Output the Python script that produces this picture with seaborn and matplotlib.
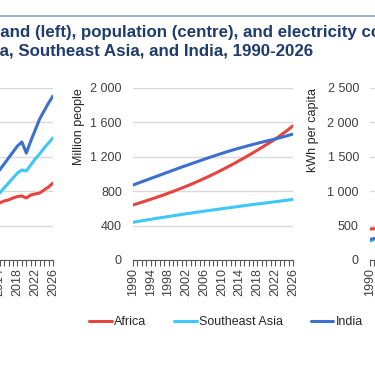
import pandas as pd
import seaborn as sns
import matplotlib.pyplot as plt
from matplotlib.lines import Line2D
from matplotlib.ticker import FixedLocator, FuncFormatter

# ---------------- data ----------------
regions = ["Africa", "Southeast Asia", "India"]
colours = {"Africa": "#E8433E", "Southeast Asia": "#3DC8F7", "India": "#3C70CF"}

# electricity demand, TWh (left panel - only the latest years are in view)
demand_years = list(range(2013, 2027))
demand_africa = [650, 663, 686, 698, 721, 738, 744, 721, 756, 768, 779, 814, 849, 896]
demand_sea = [730, 779, 837, 895, 953, 1012, 1047, 1035, 1105, 1175, 1233, 1302, 1361, 1419]
demand_india = [985, 1047, 1116, 1186, 1256, 1326, 1372, 1244, 1384, 1512, 1640, 1733, 1826, 1907]

# population, million people (centre panel)
pop_years = list(range(1990, 2027))
pop_africa = [640, 656, 672, 689, 706, 723, 741, 759, 778, 797,
              817, 837, 858, 879, 901, 924, 947, 971, 996, 1021,
              1047, 1074, 1101, 1129, 1158, 1187, 1217, 1247, 1278, 1309,
              1341, 1373, 1406, 1442, 1480, 1519, 1560]
pop_sea = [438, 447, 456, 465, 473, 482, 490, 498, 506, 514,
           522, 530, 538, 545, 553, 560, 568, 575, 582, 589,
           596, 603, 610, 617, 624, 631, 638, 645, 651, 658,
           664, 671, 677, 684, 691, 698, 705]
pop_india = [872, 891, 910, 929, 948, 967, 986, 1005, 1024, 1043,
             1062, 1081, 1099, 1117, 1135, 1153, 1171, 1189, 1206, 1223,
             1240, 1256, 1272, 1287, 1302, 1316, 1330, 1344, 1357, 1370,
             1383, 1395, 1407, 1421, 1435, 1450, 1464]

# electricity consumption per capita, kWh (right panel - only 1990 in view)
pc_years = [1990, 1991, 1992]
pc_africa = [450, 455, 452]
pc_sea = [275, 300, 325]
pc_india = [300, 312, 322]

title_1 = "Electricity demand (left), population (centre), and electricity consumption per capita (right) in"
title_2 = "Africa, Southeast Asia, and India, 1990-2026"


def to_long(years, africa, sea, india):
    frames = []
    for name, vals in zip(regions, [africa, sea, india]):
        frames.append(pd.DataFrame({"year": years, "value": vals, "region": name}))
    return pd.concat(frames, ignore_index=True)


demand = to_long(demand_years, demand_africa, demand_sea, demand_india)
population = to_long(pop_years, pop_africa, pop_sea, pop_india)
per_capita = to_long(pc_years, pc_africa, pc_sea, pc_india)

# ---------------- figure ----------------
sns.set_theme(style="white")
plt.rcParams["font.family"] = ["Liberation Sans", "DejaVu Sans"]

W, H = 375, 366
fig = plt.figure(figsize=(W / 100, H / 100), dpi=100)


def px_axes(left, top, right, bottom):
    return fig.add_axes([left / W, 1 - bottom / H, (right - left) / W, (bottom - top) / H])


ax_l = px_axes(-107, 88, 53, 260)
ax_c = px_axes(133, 88, 293, 260)
ax_r = px_axes(370, 88, 530, 260)


def thousands(v, pos):
    return f"{v:,.0f}".replace(",", " ")


def style(ax, ymax, step, ylabel, label_x):
    ax.set_xlim(1990, 2026)
    ax.set_ylim(0, ymax)
    ax.yaxis.set_major_locator(FixedLocator(list(range(0, ymax + 1, step))))
    ax.yaxis.set_major_formatter(FuncFormatter(thousands))
    ax.xaxis.set_major_locator(FixedLocator(list(range(1990, 2027, 4))))
    ax.xaxis.set_minor_locator(FixedLocator(list(range(1990, 2027))))
    ax.tick_params(axis="x", which="both", bottom=True, length=4, width=0.8,
                   color="#595959", labelsize=9, labelcolor="#404040", pad=2)
    ax.tick_params(axis="x", which="major", labelrotation=90)
    ax.tick_params(axis="y", left=False, length=0, pad=8, labelsize=9, labelcolor="#404040")
    ax.grid(axis="y", color="#D9D9D9", linewidth=1)
    ax.set_axisbelow(True)
    for side in ["left", "right", "top"]:
        ax.spines[side].set_visible(False)
    ax.spines["bottom"].set_color("#595959")
    ax.spines["bottom"].set_linewidth(0.8)
    ax.set_xlabel("")
    ax.set_ylabel(ylabel, fontsize=9, color="#262626", ha="right")
    ax.yaxis.set_label_coords(label_x, 1.0)


sns.lineplot(data=demand, x="year", y="value", hue="region", hue_order=regions,
             palette=colours, linewidth=2.2, ax=ax_l, legend=False)
sns.lineplot(data=population, x="year", y="value", hue="region", hue_order=regions,
             palette=colours, linewidth=2.2, ax=ax_c)
sns.lineplot(data=per_capita, x="year", y="value", hue="region", hue_order=regions,
             palette=colours, linewidth=2.2, ax=ax_r, legend=False)

style(ax_l, 2000, 400, "TWh", -0.30)
style(ax_c, 2000, 400, "Million people", -0.30)
style(ax_r, 2500, 500, "kWh per capita", -0.32)

handles, labels = ax_c.get_legend_handles_labels()
ax_c.get_legend().remove()
fig.legend(handles, labels, loc="center", bbox_to_anchor=(226 / W, 1 - 322 / H), ncol=3,
           frameon=False, fontsize=9, handlelength=1.8, handletextpad=0.2,
           columnspacing=2.2, labelcolor="#262626")

# rule above the title
fig.add_artist(Line2D([0, 1], [1 - 16 / H, 1 - 16 / H], transform=fig.transFigure,
                      color="#8FAACC", linewidth=1.3))

# title, clipped at both sides like the reference crop
title_kw = dict(fontsize=12.2, fontweight="bold", color="#1F3C6E", va="baseline", ha="left")
renderer = fig.canvas.get_renderer()
for text, prefix, baseline in [(title_1, "Electricity dem", 37), (title_2, "Afric", 56)]:
    probe = fig.text(0, 0, prefix, **title_kw)
    shift = probe.get_window_extent(renderer=renderer).width
    probe.remove()
    fig.text(-shift / W, 1 - baseline / H, text, **title_kw)

fig.savefig("out.png", dpi=100)
